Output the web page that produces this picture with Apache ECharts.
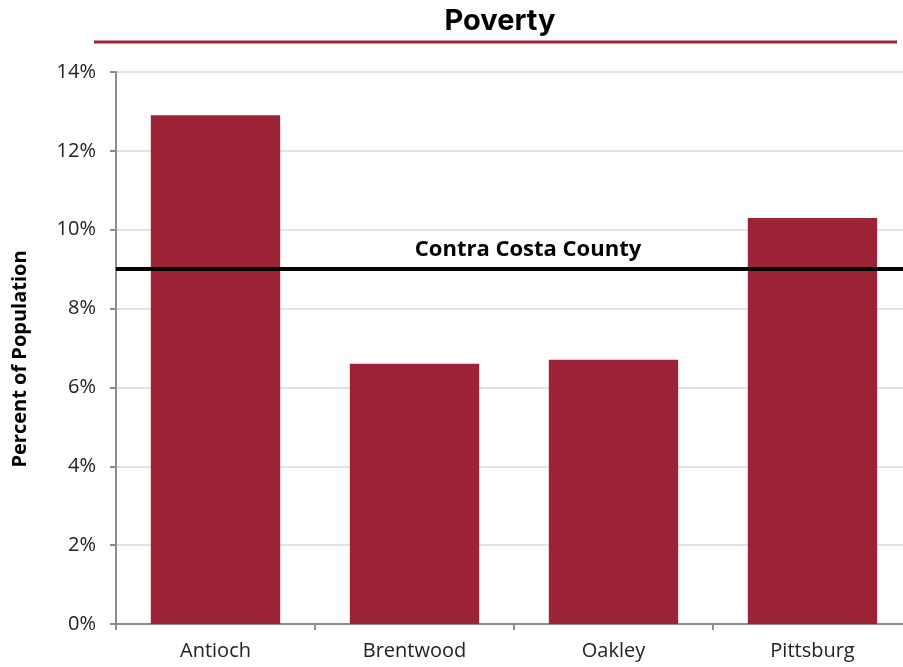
<!DOCTYPE html>
<html>
<head>
<meta charset="utf-8">
<script src="https://cdn.jsdelivr.net/npm/echarts@6/dist/echarts.min.js"></script>
<style>
  html, body { margin: 0; padding: 0; background: #fff; }
  #chart { width: 903px; height: 667px; }
</style>
</head>
<body>
<div id="chart"></div>
<script>
// Poverty rate by city, percent of population
const cities = ['Antioch', 'Brentwood', 'Oakley', 'Pittsburg'];
const povertyRate = [12.9, 6.6, 6.7, 10.3];
const countyRate = 9.0;
const countyLabel = 'Contra Costa County';
const yTicks = [0, 2, 4, 6, 8, 10, 12, 14];

const barColor = '#9c2236';
const font = '"Open Sans", "Noto Sans", sans-serif';

const chart = echarts.init(document.getElementById('chart'));
chart.setOption({
  animation: false,
  title: {
    text: 'Poverty',
    left: 495,
    textAlign: 'center',
    top: 2,
    textStyle: { fontFamily: 'Inter, sans-serif', fontSize: 29, fontWeight: 'bold', color: '#000' }
  },
  graphic: [{
    type: 'line',
    shape: { x1: 94, y1: 42, x2: 897, y2: 42 },
    style: { stroke: barColor, lineWidth: 3 }
  }],
  // plot area runs slightly past the right edge of the canvas
  grid: { left: 116, width: 796, top: 72, bottom: 43, outerBoundsMode: 'none', containLabel: false },
  xAxis: {
    type: 'category',
    data: cities,
    axisLine: { lineStyle: { color: '#8c8c8c', width: 2 } },
    axisTick: { show: true, length: 6, lineStyle: { color: '#8c8c8c', width: 2 } },
    axisLabel: { fontFamily: font, fontSize: 20, color: '#222', margin: 17 }
  },
  yAxis: {
    type: 'value',
    min: yTicks[0],
    max: yTicks[yTicks.length - 1],
    interval: 2,
    name: 'Percent of Population',
    nameLocation: 'middle',
    nameGap: 86,
    nameTextStyle: { fontFamily: font, fontSize: 20, fontWeight: 'bold', color: '#000', padding: [0, 22, 0, 0] },
    axisLine: { show: true, lineStyle: { color: '#8c8c8c', width: 2 } },
    axisTick: { show: true, length: 6, lineStyle: { color: '#8c8c8c', width: 2 } },
    axisLabel: { fontFamily: font, fontSize: 20, color: '#222', margin: 20, formatter: v => v + '%' },
    splitLine: { lineStyle: { color: '#e3e3e3', width: 2 } }
  },
  series: [{
    type: 'bar',
    data: povertyRate,
    barCategoryGap: '35%',
    itemStyle: { color: barColor },
    markLine: {
      symbol: ['none', 'none'],
      silent: true,
      lineStyle: { color: '#000', width: 4, type: 'solid' },
      label: {
        show: true,
        position: 'middle',
        formatter: countyLabel,
        fontFamily: font,
        fontSize: 22,
        fontWeight: 'bold',
        color: '#000',
        distance: 8,
        padding: [0, 0, 0, 28]
      },
      data: [{ yAxis: countyRate }]
    }
  }]
});
</script>
</body>
</html>
